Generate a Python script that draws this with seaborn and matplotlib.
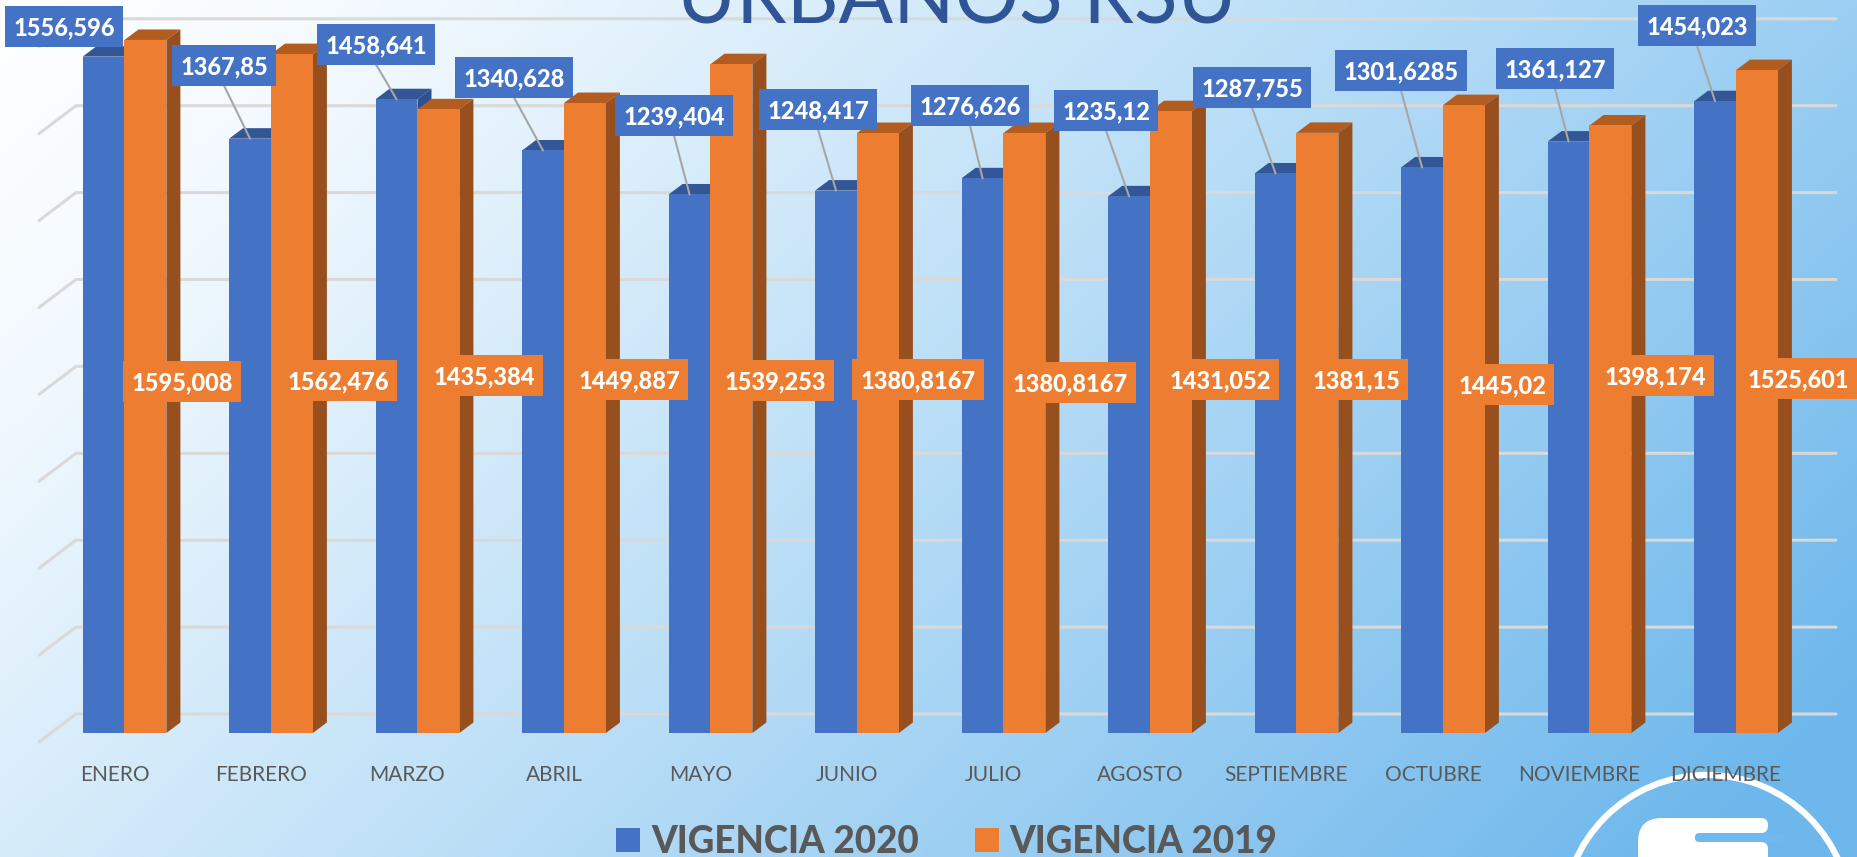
import matplotlib
matplotlib.use("Agg")
import matplotlib.pyplot as plt
from matplotlib.colors import to_rgb
from matplotlib.patches import Circle, FancyBboxPatch, Polygon, Rectangle
from matplotlib.transforms import ScaledTranslation
import numpy as np
import pandas as pd
import seaborn as sns

meses = ["ENERO", "FEBRERO", "MARZO", "ABRIL", "MAYO", "JUNIO", "JULIO", "AGOSTO",
         "SEPTIEMBRE", "OCTUBRE", "NOVIEMBRE", "DICIEMBRE"]
vigencia_2020 = [1556.596, 1367.85, 1458.641, 1340.628, 1239.404, 1248.417, 1276.626,
                 1235.12, 1287.755, 1301.6285, 1361.127, 1454.023]
vigencia_2019 = [1595.008, 1562.476, 1435.384, 1449.887, 1539.253, 1380.8167, 1380.8167,
                 1431.052, 1381.15, 1445.02, 1398.174, 1525.601]
grid_values = [0, 200, 400, 600, 800, 1000, 1200, 1400, 1600]
titulo = "URBANOS RSU"

# label box centres in pixels of the 1858x857 picture
pos_2020 = [(64, 26), (224, 65), (376, 44), (514, 77), (674, 115), (818, 109),
            (970, 105), (1106, 110), (1252, 87), (1401, 70), (1555, 68), (1697, 25)]
pos_2019 = [(182, 381), (338, 380), (484, 375), (629, 379), (775, 380), (918, 379),
            (1070, 382), (1220, 379), (1356, 379), (1502, 384), (1655, 375), (1798, 378)]
box_widths = {6: 90, 7: 104, 8: 118, 9: 132}

W, H = 1858, 857
BASE_Y = 733        # pixel row of value 0 on the bar fronts
PX_PER_UNIT = 0.4345
STEP_X = 146.5
FIRST_X = 124.5
DEPTH_X, DEPTH_Y = 14, 10.5
BLUE, ORANGE = "#4472C4", "#ED7D31"
GREY = "#595959"

sns.set_style("white")
plt.rcParams["font.family"] = ["Lato", "DejaVu Sans"]

fig = plt.figure(figsize=(W / 100, H / 100), dpi=100)

# background layer: gradient, title, gridlines, logo
bg = fig.add_axes([0, 0, 1, 1], zorder=0)
bg.axis("off")
yy, xx = np.mgrid[0:H:4, 0:W:4]
t = 0.72 * xx / W + 0.34 * yy / H
stops = [0, 0.16, 0.55, 1]
cols = np.array([to_rgb(c) for c in ["#FFFFFF", "#F2F9FE", "#B6DCF6", "#6DB7EC"]])
grad = np.dstack([np.interp(t, stops, cols[:, i]) for i in range(3)])
bg.imshow(grad, extent=(0, W, H, 0), aspect="auto", interpolation="bilinear")
bg.set_xlim(0, W)
bg.set_ylim(H, 0)

bg.text(957, 23, titulo, color="#2F5597", fontsize=58, ha="center", va="baseline")

for v in grid_values:
    y = 714 - v * PX_PER_UNIT
    bg.plot([39, 76, 1836], [y + 28, y, y], color="#D9D9D9", lw=2.2, solid_joinstyle="miter")

# logo, cut by the lower edge
bg.add_patch(Circle((1707, 919), 144, fill=False, ec="white", lw=4.5))
for box, r in [((1638, 818, 70, 90), 24), ((1680, 818, 88, 15), 7), ((1680, 842, 88, 30), 7)]:
    bg.add_patch(FancyBboxPatch(box[:2], box[2], box[3], boxstyle=f"round,pad=0,rounding_size={r}",
                                fc="white", ec="none"))
bg.add_patch(FancyBboxPatch((1695, 833), 90, 9, boxstyle="round,pad=0,rounding_size=4",
                            fc="#6FB9EE", ec="none"))

# bars
df = pd.DataFrame({
    "mes": meses * 2,
    "toneladas": vigencia_2020 + vigencia_2019,
    "vigencia": ["VIGENCIA 2020"] * 12 + ["VIGENCIA 2019"] * 12,
})
ax = fig.add_axes([0, (H - BASE_Y) / H, 1, BASE_Y / H], zorder=1)
ax.patch.set_visible(False)
sns.barplot(data=df, x="mes", y="toneladas", hue="vigencia", ax=ax, width=0.572, gap=0,
            palette=[BLUE, ORANGE], saturation=1, errorbar=None)
ax.set_xlim(-FIRST_X / STEP_X, (W - FIRST_X) / STEP_X)
ax.set_ylim(0, BASE_Y / PX_PER_UNIT)
ax.set_xlabel("")
ax.set_ylabel("")
ax.set_yticks([])
sns.despine(ax=ax, left=True, bottom=True)
ax.tick_params(axis="x", length=0, pad=23, labelsize=15, labelcolor=GREY)
shift = ScaledTranslation(-10 / 100, 0, fig.dpi_scale_trans)
for lab in ax.get_xticklabels():
    lab.set_transform(lab.get_transform() + shift)

# fake 3D depth: top and side faces behind every bar front
dx, dy = DEPTH_X / STEP_X, DEPTH_Y / PX_PER_UNIT
faces = [("#335696", "#2E5090", 2, 3), ("#B35C20", "#964F1D", 4, 5)]
for cont, (top_c, side_c, z_back, z_front) in zip(ax.containers, faces):
    for bar in cont:
        x0, w, h = bar.get_x(), bar.get_width(), bar.get_height()
        bar.set_zorder(z_front)
        bar.set_edgecolor("none")
        ax.add_patch(Polygon([(x0, h), (x0 + dx, h + dy), (x0 + w + dx, h + dy), (x0 + w, h)],
                             fc=top_c, ec="none", zorder=z_back))
        ax.add_patch(Polygon([(x0 + w, 0), (x0 + w + dx, dy), (x0 + w + dx, h + dy), (x0 + w, h)],
                             fc=side_c, ec="none", zorder=z_back))

sns.move_legend(ax, "lower left", bbox_to_anchor=(583 / W, -35 / H), bbox_transform=fig.transFigure,
                ncol=2, title=None, frameon=False, handlelength=0.65, handleheight=0.65,
                handletextpad=0.3, columnspacing=1.52, prop={"weight": "black", "size": 26.5},
                labelcolor=GREY)
for handle in ax.get_legend().legend_handles:
    handle.set_edgecolor("none")

# data labels on top of everything
ov = fig.add_axes([0, 0, 1, 1], zorder=2)
ov.set_xlim(0, W)
ov.set_ylim(H, 0)
ov.axis("off")


def put_label(value, cx, cy, color):
    txt = str(value).replace(".", ",")
    bw = box_widths[len(txt)]
    ov.add_patch(Rectangle((cx - bw / 2, cy - 20.5), bw, 41, fc=color, ec="none", zorder=3))
    ov.text(cx, cy, txt, color="white", fontsize=17, fontweight="black",
            ha="center", va="center_baseline", zorder=4)


for bar, value, (cx, cy) in zip(ax.containers[0], vigencia_2020, pos_2020):
    top = ov.transData.inverted().transform(
        ax.transData.transform((bar.get_x() + bar.get_width() / 2, bar.get_height())))
    if top[1] - (cy + 20.5) > 15:
        ov.plot([cx, top[0]], [cy + 20.5, top[1]], color="#A6A6A6", lw=1.5, zorder=2)
    put_label(value, cx, cy, BLUE)
for value, (cx, cy) in zip(vigencia_2019, pos_2019):
    put_label(value, cx, cy, ORANGE)

fig.savefig("out.png", dpi=100)
